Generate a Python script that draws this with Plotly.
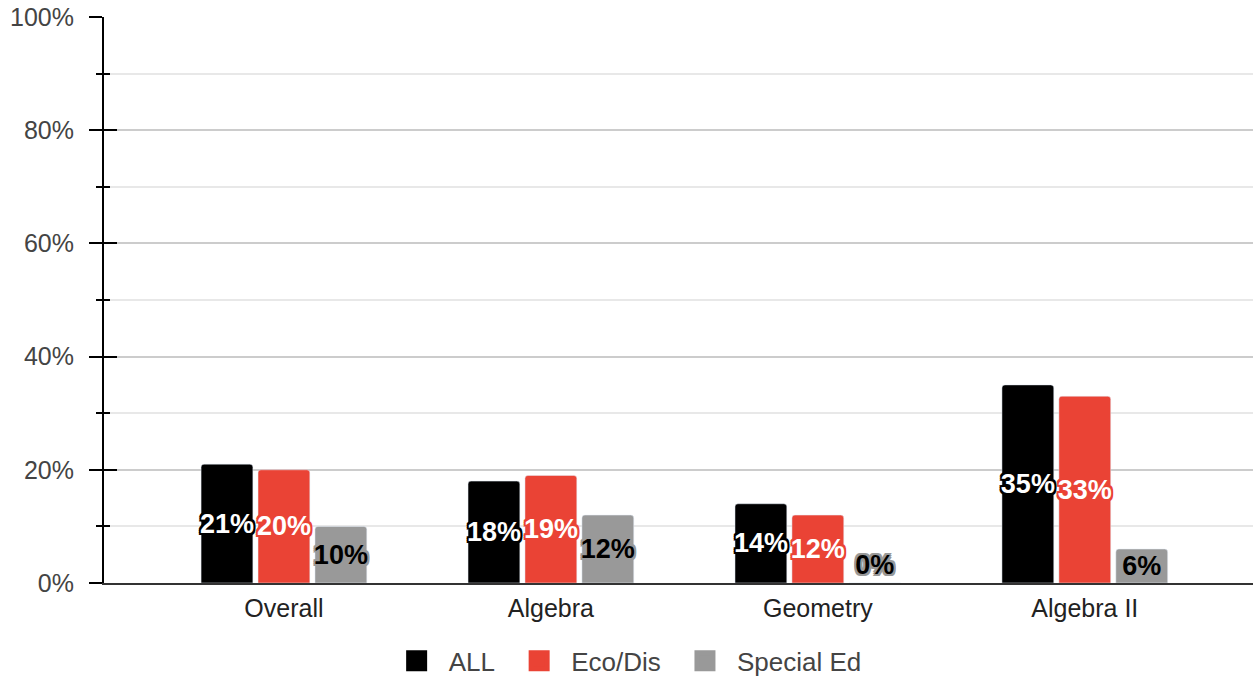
import plotly.graph_objects as go

# Course categories and pass rates (fraction)
courses = ['Overall', 'Algebra', 'Geometry', 'Algebra II']
all_vals = [0.21, 0.18, 0.14, 0.35]
eco_vals = [0.20, 0.19, 0.12, 0.33]
sped_vals = [0.10, 0.12, 0.0, 0.06]

series = [
    ('ALL', all_vals, '#000000', 'white', '#000000'),
    ('Eco/Dis', eco_vals, '#ea4335', 'white', '#ea4335'),
    ('Special Ed', sped_vals, '#999999', 'black', '#999999'),
]


def outline(c, w=2):
    parts = []
    for dx in (-w, 0, w):
        for dy in (-w, 0, w):
            if dx or dy:
                parts.append(f'{dx}px {dy}px 0 {c}')
    return ', '.join(parts)


fig = go.Figure()
for i, (name, vals, col, tcol, ocol) in enumerate(series):
    fig.add_trace(go.Bar(
        x=courses, y=vals, name=name, marker_color=col, showlegend=False,
        text=[f'{round(v * 100)}%' for v in vals],
        # zero-height bars get their label drawn just above the base
        textposition=['outside' if v == 0 else 'inside' for v in vals],
        insidetextanchor='middle', constraintext='none',
        textangle=0, cliponaxis=False,
        textfont=dict(family='Liberation Sans, Arial', size=27, color=tcol,
                      weight='bold', shadow=outline(ocol)),
        hoverinfo='skip',
    ))
    # legend entry with a large square swatch (nbsp pads the gap to the next item)
    fig.add_trace(go.Scatter(
        x=[None], y=[None], mode='markers',
        name=name + ('\u00a0' if i < len(series) - 1 else ''),
        marker=dict(symbol='square', size=16, color=col,
                    line=dict(color=col, width=5)),
    ))

fig.update_layout(
    width=1253, height=677,
    margin=dict(l=104, r=0, t=17, b=94),
    paper_bgcolor='white', plot_bgcolor='white',
    barmode='group', bargap=0.36, bargroupgap=0.09, barcornerradius=3,
    font=dict(family='Liberation Sans, Arial', size=25, color='#444444'),
    legend=dict(orientation='h', x=0.454, xanchor='center',
                yref='container', y=0.024, yanchor='middle',
                font=dict(size=26, color='#444444'), itemsizing='trace',
                traceorder='normal', itemwidth=54),
    showlegend=True,
)
fig.update_xaxes(
    range=[-0.674, 3.63], showgrid=False, showline=True, linecolor='#333333',
    linewidth=2, ticks='', tickfont=dict(size=25, color='#222222'),
    automargin=False, ticklabelstandoff=2,
)
fig.update_yaxes(
    range=[0, 1], tickvals=[0, 0.2, 0.4, 0.6, 0.8, 1.0], tickformat='.0%',
    showgrid=True, gridcolor='#cccccc', gridwidth=1.5,
    showline=True, linecolor='#000000', linewidth=2,
    ticks='outside', ticklen=13, tickwidth=2, tickcolor='#000000',
    minor=dict(tickvals=[0.1, 0.3, 0.5, 0.7, 0.9], showgrid=True, gridcolor='#e8e8e8',
               ticks='outside', ticklen=6, tickwidth=2, tickcolor='#000000'),
    tickfont=dict(size=25, color='#444444'), zeroline=False,
    automargin=False, ticklabelstandoff=10,
)
# second overlaid axis to give the cross-style ticks on the inside
fig.update_layout(yaxis2=dict(
    overlaying='y', side='left', range=[0, 1], tickvals=[0, 0.2, 0.4, 0.6, 0.8, 1.0],
    showticklabels=False, showgrid=False, ticks='inside', ticklen=13, tickwidth=2,
    tickcolor='#000000', showline=False, zeroline=False, automargin=False,
    minor=dict(tickvals=[0.1, 0.3, 0.5, 0.7, 0.9], ticks='inside', ticklen=6,
               tickwidth=2, tickcolor='#000000'),
))
fig.add_trace(go.Scatter(x=[None], y=[None], yaxis='y2', showlegend=False, hoverinfo='skip'))

fig.write_html('out.html', config={'displayModeBar': False},
               post_script="document.body.style.margin='0';")
